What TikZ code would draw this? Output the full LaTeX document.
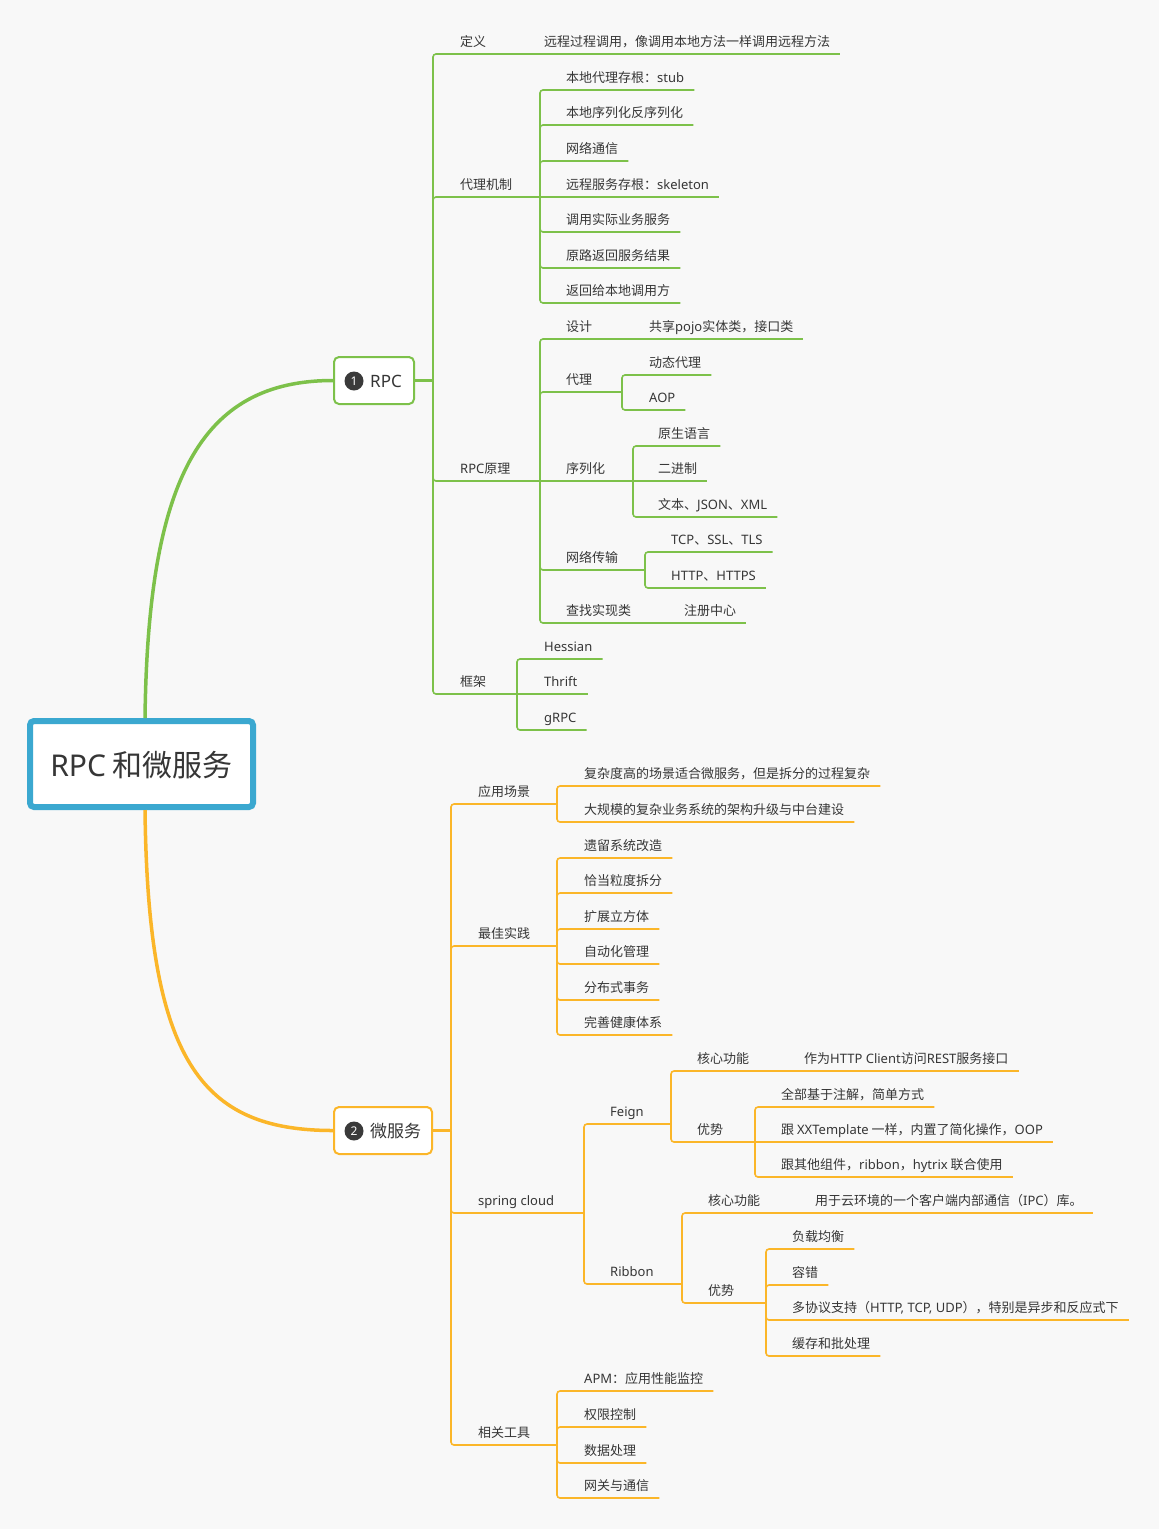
\documentclass[tikz,border=0pt]{standalone}
\usepackage{fontspec}
\setmainfont{Noto Sans CJK SC}
\newfontfamily\latf{Noto Sans}
\newcommand\Lat[1]{{\latf #1}}
\definecolor{gr}{RGB}{125,193,74}
\definecolor{og}{RGB}{251,182,41}
\definecolor{bl}{RGB}{59,168,208}
\definecolor{bgc}{RGB}{248,248,248}
\definecolor{tc}{RGB}{54,54,54}
\definecolor{dk}{RGB}{58,58,58}
% leaf at other y / same y, and branch to a junction
\newcommand\tleaf[3]{\draw[#1] (#2) |- ([xshift=10pt,yshift=-8pt]#3.base east);}
\newcommand\tleafs[3]{\draw[#1] (#2) -- ([xshift=10pt,yshift=-8pt]#3.base east);}
\newcommand\tbr[4]{\draw[#1] (#3) |- (#4); \draw[#2] ([xshift=-18pt]#4) -- (#4);}
\newcommand\tbrs[4]{\draw[#1] (#3) -- (#4); \draw[#2] ([xshift=-18pt]#4) -- (#4);}
\begin{document}
\begin{tikzpicture}[x=1pt,y=-1pt,
  txt/.style={anchor=base west, inner sep=0pt, font=\fontsize{13}{15}\selectfont, text=tc},
  boxt/.style={anchor=base west, inner sep=0pt, font=\fontsize{17}{20}\selectfont, text=tc},
  numc/.style={circle, fill=dk, text=white, minimum size=19pt, inner sep=0pt, font=\latf\fontsize{12}{12}\selectfont},
  glin/.style={draw=gr, line width=1.6pt, rounded corners=3pt},
  gthk/.style={draw=gr, line width=2.6pt},
  olin/.style={draw=og, line width=1.6pt, rounded corners=3pt},
  othk/.style={draw=og, line width=2.6pt},
  rootbox/.style={draw=bl, line width=6pt, fill=white, rounded corners=4pt, minimum width=223pt, minimum height=86pt, inner sep=0pt, font=\fontsize{30}{36}\selectfont, text=tc, text height=24pt, text depth=0pt}]
\fill[bgc] (0,0) rectangle (1159,1529);
\useasboundingbox (0,0) rectangle (1159,1529);

% root and main topics
\node[rootbox] (root) at (141.5,764) {\Lat{RPC} 和微服务};
\node[draw=gr, line width=2pt, fill=white, rounded corners=5pt, minimum width=80pt, minimum height=47pt, inner sep=0pt] (rpc) at (374,380.5) {};
\node[numc] (num1) at (354,381) {1};
\node[boxt] (rpct) at (370,387) {\Lat{RPC}};
\node[draw=og, line width=2pt, fill=white, rounded corners=5pt, minimum width=98pt, minimum height=47pt, inner sep=0pt] (ms) at (383,1130.5) {};
\node[numc] (num2) at (354,1131) {2};
\node[boxt] (mst) at (370,1137.5) {微服务};

\draw[draw=gr, line width=3.5pt] ([xshift=3.5pt]root.north) .. controls (148,480) and (200,380.5) .. (rpc.west);
\draw[draw=og, line width=3.5pt] ([xshift=3.5pt]root.south) .. controls (148,1060) and (200,1130.5) .. (ms.west);

\coordinate (Jr) at (433,380.5);
\draw[gthk] (rpc.east) -- (Jr);
\coordinate (Jm) at (451,1130.5);
\draw[othk] (ms.east) -- (Jm);

% ---------- RPC ----------
\node[txt] (def) at (460,46) {定义};
\coordinate (Jdef) at (514,54);
\tbr{glin}{gthk}{Jr}{Jdef}
\node[txt] (def1) at (544,46) {远程过程调用，像调用本地方法一样调用远程方法};
\tleafs{glin}{Jdef}{def1}

\node[txt] (prx) at (460,189) {代理机制};
\coordinate (Jprx) at (540,197);
\tbr{glin}{gthk}{Jr}{Jprx}
\node[txt] (p1) at (566,82) {本地代理存根：\Lat{stub}};
\tleaf{glin}{Jprx}{p1}
\node[txt] (p2) at (566,117) {本地序列化反序列化};
\tleaf{glin}{Jprx}{p2}
\node[txt] (p3) at (566,153) {网络通信};
\tleaf{glin}{Jprx}{p3}
\node[txt] (p4) at (566,189) {远程服务存根：\Lat{skeleton}};
\tleafs{glin}{Jprx}{p4}
\node[txt] (p5) at (566,224) {调用实际业务服务};
\tleaf{glin}{Jprx}{p5}
\node[txt] (p6) at (566,260) {原路返回服务结果};
\tleaf{glin}{Jprx}{p6}
\node[txt] (p7) at (566,295) {返回给本地调用方};
\tleaf{glin}{Jprx}{p7}

\node[txt] (prin) at (460,473) {\Lat{RPC}原理};
\coordinate (Jprin) at (540,481);
\tbr{glin}{gthk}{Jr}{Jprin}
\node[txt] (des) at (566,331) {设计};
\coordinate (Jdes) at (619,339);
\tbr{glin}{gthk}{Jprin}{Jdes}
\node[txt] (des1) at (649,331) {共享\Lat{pojo}实体类，接口类};
\tleafs{glin}{Jdes}{des1}
\node[txt] (dl) at (566,384) {代理};
\coordinate (Jdl) at (622,392);
\tbr{glin}{gthk}{Jprin}{Jdl}
\node[txt] (dl1) at (649,367) {动态代理};
\tleaf{glin}{Jdl}{dl1}
\node[txt] (dl2) at (649,402) {\Lat{AOP}};
\tleaf{glin}{Jdl}{dl2}
\node[txt] (ser) at (566,473) {序列化};
\coordinate (Jser) at (633,481);
\tbrs{glin}{gthk}{Jprin}{Jser}
\node[txt] (s1) at (658,438) {原生语言};
\tleaf{glin}{Jser}{s1}
\node[txt] (s2) at (658,473) {二进制};
\tleafs{glin}{Jser}{s2}
\node[txt] (s3) at (658,509) {文本、\Lat{JSON}、\Lat{XML}};
\tleaf{glin}{Jser}{s3}
\node[txt] (net) at (566,562) {网络传输};
\coordinate (Jnet) at (645,570);
\tbr{glin}{gthk}{Jprin}{Jnet}
\node[txt] (t1) at (671,544) {\Lat{TCP}、\Lat{SSL}、\Lat{TLS}};
\tleaf{glin}{Jnet}{t1}
\node[txt] (t2) at (671,580) {\Lat{HTTP}、\Lat{HTTPS}};
\tleaf{glin}{Jnet}{t2}
\node[txt] (fd) at (566,615) {查找实现类};
\coordinate (Jfd) at (654,623);
\tbr{glin}{gthk}{Jprin}{Jfd}
\node[txt] (fd1) at (684,615) {注册中心};
\tleafs{glin}{Jfd}{fd1}

\node[txt] (fw) at (460,686) {框架};
\coordinate (Jfw) at (517,694);
\tbr{glin}{gthk}{Jr}{Jfw}
\node[txt] (f1) at (544,651) {\Lat{Hessian}};
\tleaf{glin}{Jfw}{f1}
\node[txt] (f2) at (544,686) {\Lat{Thrift}};
\tleafs{glin}{Jfw}{f2}
\node[txt] (f3) at (544,722) {\Lat{gRPC}};
\tleaf{glin}{Jfw}{f3}

% ---------- 微服务 ----------
\node[txt] (scn) at (478,796) {应用场景};
\coordinate (Jscn) at (557,804);
\tbr{olin}{othk}{Jm}{Jscn}
\node[txt] (sc1) at (584,778) {复杂度高的场景适合微服务，但是拆分的过程复杂};
\tleaf{olin}{Jscn}{sc1}
\node[txt] (sc2) at (584,814) {大规模的复杂业务系统的架构升级与中台建设};
\tleaf{olin}{Jscn}{sc2}

\node[txt] (bst) at (478,938) {最佳实践};
\coordinate (Jbst) at (557,946);
\tbr{olin}{othk}{Jm}{Jbst}
\node[txt] (b1) at (584,850) {遗留系统改造};
\tleaf{olin}{Jbst}{b1}
\node[txt] (b2) at (584,885) {恰当粒度拆分};
\tleaf{olin}{Jbst}{b2}
\node[txt] (b3) at (584,921) {扩展立方体};
\tleaf{olin}{Jbst}{b3}
\node[txt] (b4) at (584,956) {自动化管理};
\tleaf{olin}{Jbst}{b4}
\node[txt] (b5) at (584,992) {分布式事务};
\tleaf{olin}{Jbst}{b5}
\node[txt] (b6) at (584,1027) {完善健康体系};
\tleaf{olin}{Jbst}{b6}

\node[txt] (spc) at (478,1205) {\Lat{spring cloud}};
\coordinate (Jspc) at (584,1213);
\tbr{olin}{othk}{Jm}{Jspc}
\node[txt] (fg) at (610,1116) {\Lat{Feign}};
\coordinate (Jfg) at (671,1124);
\tbr{olin}{othk}{Jspc}{Jfg}
\node[txt] (fc) at (697,1063) {核心功能};
\coordinate (Jfc) at (774,1071);
\tbr{olin}{othk}{Jfg}{Jfc}
\node[txt] (fc1) at (804,1063) {作为\Lat{HTTP Client}访问\Lat{REST}服务接口};
\tleafs{olin}{Jfc}{fc1}
\node[txt] (fa) at (697,1134) {优势};
\coordinate (Jfa) at (755,1142);
\tbr{olin}{othk}{Jfg}{Jfa}
\node[txt] (fa1) at (781,1099) {全部基于注解，简单方式};
\tleaf{olin}{Jfa}{fa1}
\node[txt] (fa2) at (781,1134) {跟 \Lat{XXTemplate} 一样，内置了简化操作，\Lat{OOP}};
\tleafs{olin}{Jfa}{fa2}
\node[txt] (fa3) at (781,1169) {跟其他组件，\Lat{ribbon}，\Lat{hytrix} 联合使用};
\tleaf{olin}{Jfa}{fa3}

\node[txt] (rb) at (610,1276) {\Lat{Ribbon}};
\coordinate (Jrb) at (682,1284);
\tbr{olin}{othk}{Jspc}{Jrb}
\node[txt] (rc) at (708,1205) {核心功能};
\coordinate (Jrc) at (785,1213);
\tbr{olin}{othk}{Jrb}{Jrc}
\node[txt] (rc1) at (815,1205) {用于云环境的一个客户端内部通信（\Lat{IPC}）库。};
\tleafs{olin}{Jrc}{rc1}
\node[txt] (ra) at (708,1295) {优势};
\coordinate (Jra) at (766,1303);
\tbr{olin}{othk}{Jrb}{Jra}
\node[txt] (ra1) at (792,1241) {负载均衡};
\tleaf{olin}{Jra}{ra1}
\node[txt] (ra2) at (792,1277) {容错};
\tleaf{olin}{Jra}{ra2}
\node[txt] (ra3) at (792,1312) {多协议支持（\Lat{HTTP, TCP, UDP}），特别是异步和反应式下};
\tleaf{olin}{Jra}{ra3}
\node[txt] (ra4) at (792,1348) {缓存和批处理};
\tleaf{olin}{Jra}{ra4}

\node[txt] (tl) at (478,1437) {相关工具};
\coordinate (Jtl) at (557,1445);
\tbr{olin}{othk}{Jm}{Jtl}
\node[txt] (tl1) at (584,1383) {\Lat{APM}：应用性能监控};
\tleaf{olin}{Jtl}{tl1}
\node[txt] (tl2) at (584,1419) {权限控制};
\tleaf{olin}{Jtl}{tl2}
\node[txt] (tl3) at (584,1455) {数据处理};
\tleaf{olin}{Jtl}{tl3}
\node[txt] (tl4) at (584,1490) {网关与通信};
\tleaf{olin}{Jtl}{tl4}
\end{tikzpicture}
\end{document}
